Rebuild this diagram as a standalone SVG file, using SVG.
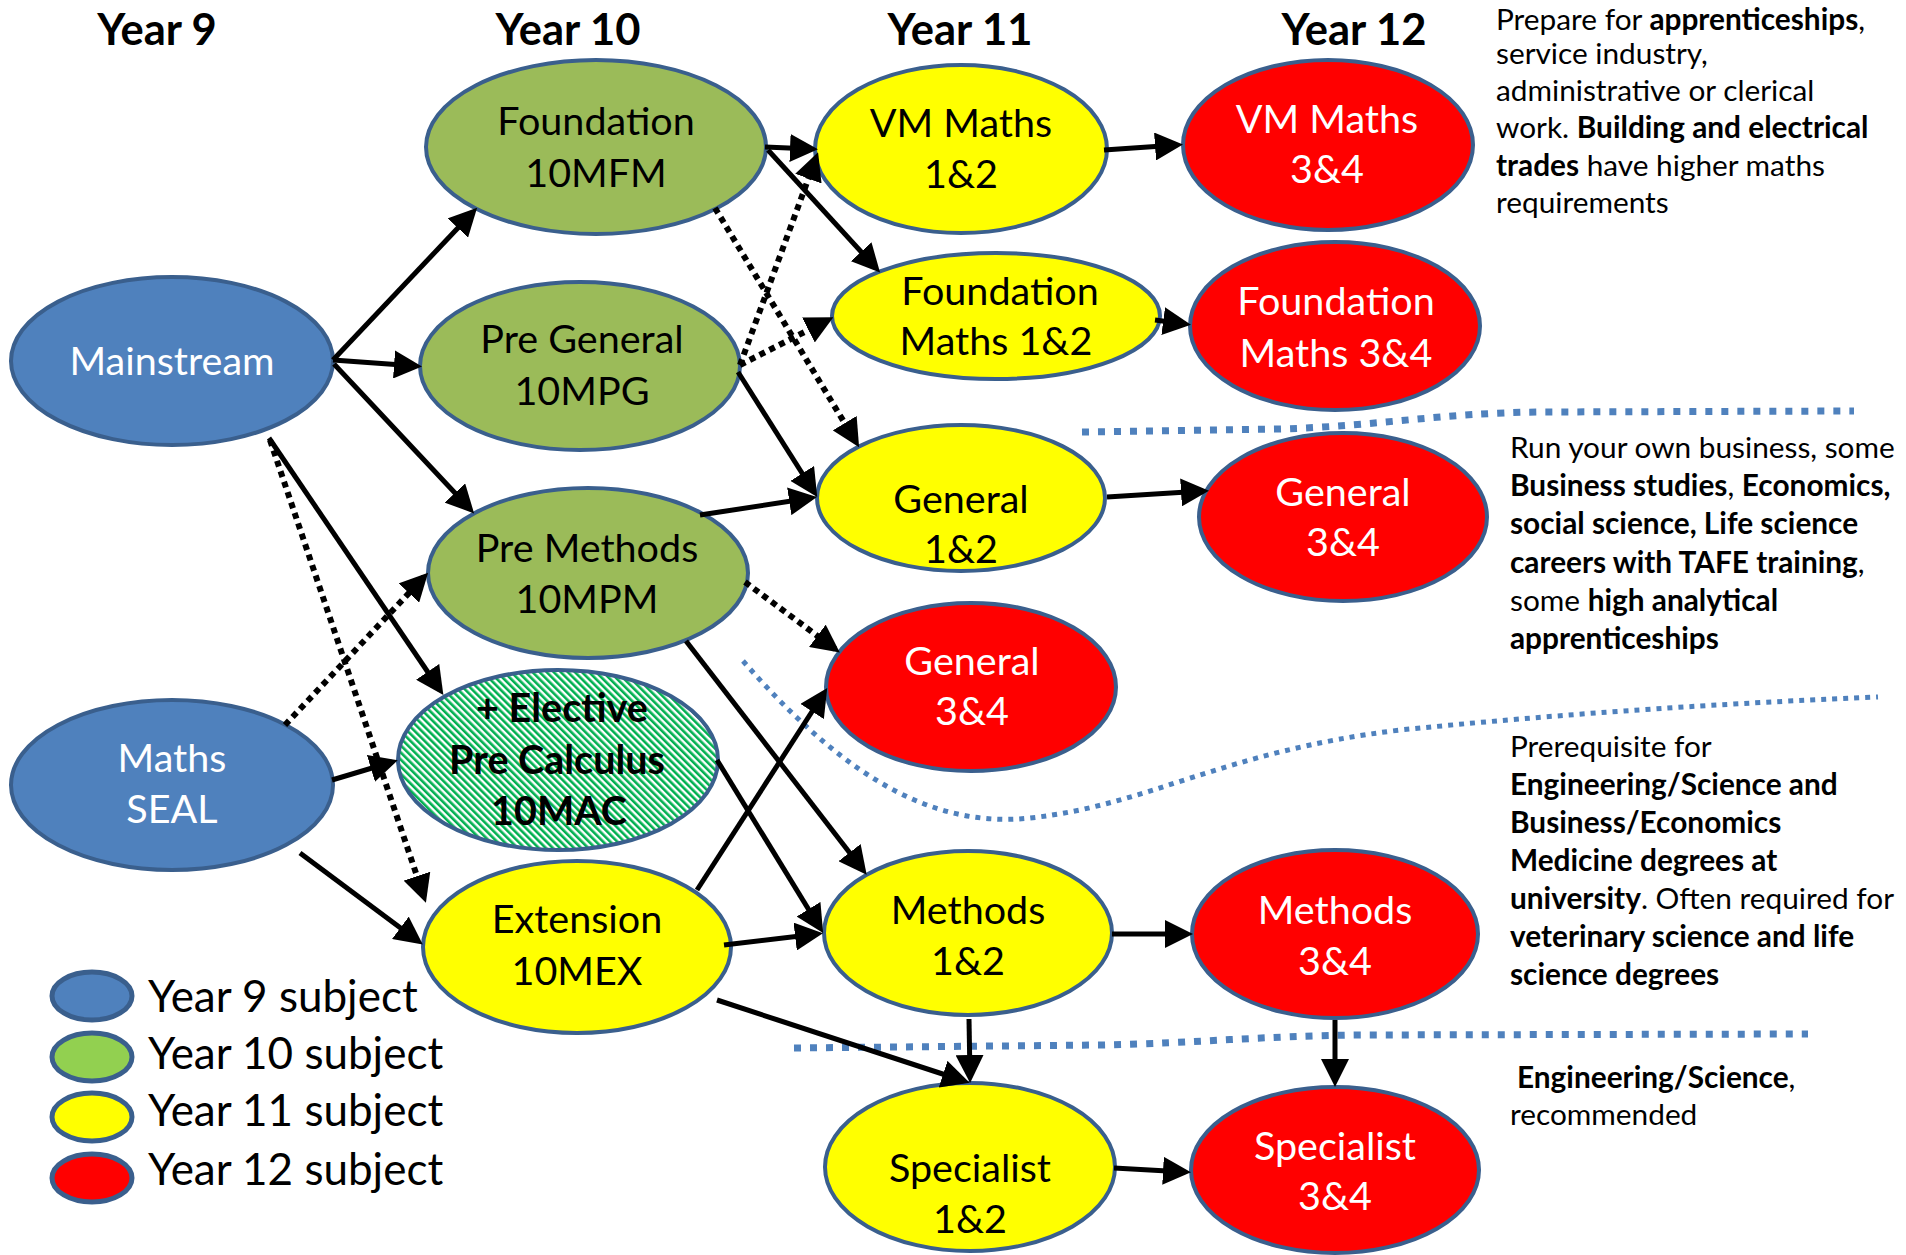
<svg xmlns="http://www.w3.org/2000/svg" width="1906" height="1255" viewBox="0 0 1906 1255">
<defs>
<style>
.hdr{font-family:Lato,"Liberation Sans",sans-serif;font-weight:bold;font-size:43.5px;text-anchor:middle;fill:#000;}
.lbl{font-family:Lato,"Liberation Sans",sans-serif;font-size:39.5px;text-anchor:middle;fill:#000;}
.w{fill:#fff;}
.bl{font-weight:bold;}
.y9{fill:#4F81BD;stroke:#3A5F8D;stroke-width:4;}
.y10{fill:#9BBB59;stroke:#3A5F8D;stroke-width:4;}
.y11{fill:#FFFF00;stroke:#3A5F8D;stroke-width:4;}
.y12{fill:#FF0000;stroke:#3A5F8D;stroke-width:4;}
.hat{fill:url(#hatch);stroke:#3A5F8D;stroke-width:4;}
.leg{stroke:#3A5F8D;stroke-width:5;}
.legt{font-family:Lato,"Liberation Sans",sans-serif;font-size:44px;fill:#000;}
.note{font-family:Lato,"Liberation Sans",sans-serif;font-size:29.8px;fill:#000;}
.c{fill:none;stroke:#000;stroke-width:5;marker-end:url(#ah);}
.d{fill:none;stroke:#000;stroke-width:6;stroke-dasharray:6 5;marker-end:url(#ah);}
.sep{fill:none;stroke:#4F81BD;stroke-width:7;stroke-dasharray:7 9;}
.sep2{fill:none;stroke:#4F81BD;stroke-width:5;stroke-dasharray:5 6;}
</style>
<marker id="ah" markerUnits="userSpaceOnUse" markerWidth="28" markerHeight="28" refX="22" refY="14" orient="auto">
<path d="M0,0 L28,14 L0,28 z" fill="#000"/>
</marker>
<pattern id="hatch" width="5" height="5" patternUnits="userSpaceOnUse" patternTransform="rotate(-45)">
<rect width="5" height="5" fill="#fff"/>
<rect width="2.6" height="5" fill="#00B050"/>
</pattern>
</defs>

<rect width="1906" height="1255" fill="#fff"/>

<g id="headers">
<text class="hdr" x="157" y="45">Year 9</text>
<text class="hdr" x="568" y="45">Year 10</text>
<text class="hdr" x="960" y="45">Year 11</text>
<text class="hdr" x="1354" y="45">Year 12</text>
</g>

<g id="separators">
<path class="sep" d="M1082,432 L1280,429 C1380,426 1440,413 1540,412 L1854,411"/>
<path class="sep2" d="M743,661 C830,760 920,830 1030,818 C1150,805 1220,752 1400,730 C1600,710 1760,702 1878,697"/>
<path class="sep" d="M794,1048 L1100,1045 C1200,1043 1260,1036 1360,1035 L1808,1034"/>
</g>

<g id="mainstream">
<ellipse class="y9" cx="172" cy="361" rx="161" ry="84"/>
<text class="lbl w" x="172" y="375">Mainstream</text>
</g>
<g id="maths-seal">
<ellipse class="y9" cx="172" cy="785" rx="161" ry="85"/>
<text class="lbl w" x="172" y="772">Maths</text>
<text class="lbl w" x="172" y="823">SEAL</text>
</g>

<g id="foundation-10mfm">
<ellipse class="y10" cx="596" cy="147" rx="170" ry="87"/>
<text class="lbl" x="596" y="135">Foundation</text>
<text class="lbl" x="596" y="187">10MFM</text>
</g>
<g id="pre-general-10mpg">
<ellipse class="y10" cx="580" cy="366" rx="160" ry="84"/>
<text class="lbl" x="582" y="353">Pre General</text>
<text class="lbl" x="582" y="405">10MPG</text>
</g>
<g id="pre-methods-10mpm">
<ellipse class="y10" cx="588" cy="573" rx="160" ry="85"/>
<text class="lbl" x="587" y="562">Pre Methods</text>
<text class="lbl" x="587" y="613">10MPM</text>
</g>
<g id="elective-10mac">
<ellipse class="hat" cx="558" cy="760" rx="160" ry="90"/>
<text class="lbl bl" x="562" y="722">+ Elective</text>
<text class="lbl bl" x="557" y="774">Pre Calculus</text>
<text class="lbl bl" x="559" y="825">10MAC</text>
</g>
<g id="extension-10mex">
<ellipse class="y11" cx="577" cy="947" rx="154" ry="86"/>
<text class="lbl" x="577" y="933">Extension</text>
<text class="lbl" x="577" y="985">10MEX</text>
</g>

<g id="vm-maths-12">
<ellipse class="y11" cx="961" cy="149" rx="146" ry="84"/>
<text class="lbl" x="961" y="137">VM Maths</text>
<text class="lbl" x="961" y="188">1&amp;2</text>
</g>
<g id="foundation-maths-12">
<ellipse class="y11" cx="996" cy="316" rx="164" ry="63"/>
<text class="lbl" x="1000" y="305">Foundation</text>
<text class="lbl" x="996" y="355">Maths 1&amp;2</text>
</g>
<g id="general-12">
<ellipse class="y11" cx="961" cy="498" rx="144" ry="73"/>
<text class="lbl" x="961" y="513">General</text>
<text class="lbl" x="961" y="563">1&amp;2</text>
</g>
<g id="general-34-mid">
<ellipse class="y12" cx="971" cy="687" rx="145" ry="84"/>
<text class="lbl w" x="972" y="675">General</text>
<text class="lbl w" x="972" y="725">3&amp;4</text>
</g>
<g id="methods-12">
<ellipse class="y11" cx="968" cy="933" rx="144" ry="82"/>
<text class="lbl" x="968" y="924">Methods</text>
<text class="lbl" x="968" y="975">1&amp;2</text>
</g>
<g id="specialist-12">
<ellipse class="y11" cx="970" cy="1167" rx="145" ry="84"/>
<text class="lbl" x="970" y="1182">Specialist</text>
<text class="lbl" x="970" y="1233">1&amp;2</text>
</g>

<g id="vm-maths-34">
<ellipse class="y12" cx="1328" cy="145" rx="145" ry="85"/>
<text class="lbl w" x="1327" y="133">VM Maths</text>
<text class="lbl w" x="1327" y="183">3&amp;4</text>
</g>
<g id="foundation-maths-34">
<ellipse class="y12" cx="1335" cy="326" rx="145" ry="84"/>
<text class="lbl w" x="1336" y="315">Foundation</text>
<text class="lbl w" x="1336" y="367">Maths 3&amp;4</text>
</g>
<g id="general-34">
<ellipse class="y12" cx="1343" cy="517" rx="144" ry="84"/>
<text class="lbl w" x="1343" y="506">General</text>
<text class="lbl w" x="1343" y="556">3&amp;4</text>
</g>
<g id="methods-34">
<ellipse class="y12" cx="1335" cy="934" rx="143" ry="84"/>
<text class="lbl w" x="1335" y="924">Methods</text>
<text class="lbl w" x="1335" y="975">3&amp;4</text>
</g>
<g id="specialist-34">
<ellipse class="y12" cx="1335" cy="1170" rx="144" ry="83"/>
<text class="lbl w" x="1335" y="1160">Specialist</text>
<text class="lbl w" x="1335" y="1210">3&amp;4</text>
</g>

<g id="connectors">
<path class="c" d="M333,360 L473,212"/>
<path class="c" d="M333,360 L416,366"/>
<path class="c" d="M334,364 L470,509"/>
<path class="c" d="M269,438 L440,690"/>
<path class="d" d="M270,440 L424,897"/>
<path class="d" d="M285,725 L424,577"/>
<path class="c" d="M332,780 L392,762"/>
<path class="c" d="M300,853 L418,941"/>
<path class="c" d="M765,147 L812,149"/>
<path class="c" d="M768,150 L876,268"/>
<path class="d" d="M715,208 L856,442"/>
<path class="d" d="M740,365 L816,158"/>
<path class="d" d="M740,365 L828,320"/>
<path class="c" d="M738,372 L814,492"/>
<path class="c" d="M700,515 L811,498"/>
<path class="d" d="M745,582 L835,649"/>
<path class="c" d="M686,641 L863,870"/>
<path class="c" d="M717,760 L820,928"/>
<path class="c" d="M697,890 L824,693"/>
<path class="c" d="M724,945 L817,934"/>
<path class="c" d="M717,1000 L964,1081"/>
<path class="c" d="M1104,150 L1177,145"/>
<path class="c" d="M1155,320 L1185,324"/>
<path class="c" d="M1107,497 L1203,491"/>
<path class="c" d="M1112,934 L1187,934"/>
<path class="c" d="M969,1019 L970,1077"/>
<path class="c" d="M1335,1020 L1335,1081"/>
<path class="c" d="M1114,1168 L1185,1172"/>
</g>

<g id="notes">
<text class="note" x="1496" y="30">Prepare for <tspan class="bl">apprenticeships</tspan>,</text>
<text class="note" x="1496" y="64">service industry,</text>
<text class="note" x="1496" y="101">administrative or clerical</text>
<text class="note" x="1496" y="138">work. <tspan class="bl">Building and electrical</tspan></text>
<text class="note" x="1496" y="176"><tspan class="bl">trades</tspan> have higher maths</text>
<text class="note" x="1496" y="213">requirements</text>

<text class="note" x="1510" y="458">Run your own business, some</text>
<text class="note" x="1510" y="496"><tspan class="bl">Business studies</tspan>, <tspan class="bl">Economics,</tspan></text>
<text class="note bl" x="1510" y="534">social science, Life science</text>
<text class="note" x="1510" y="573"><tspan class="bl">careers with TAFE training</tspan>,</text>
<text class="note" x="1510" y="611">some <tspan class="bl">high analytical</tspan></text>
<text class="note bl" x="1510" y="649">apprenticeships</text>

<text class="note" x="1510" y="757">Prerequisite for</text>
<text class="note bl" x="1510" y="795">Engineering/Science and</text>
<text class="note bl" x="1510" y="833">Business/Economics</text>
<text class="note bl" x="1510" y="871">Medicine degrees at</text>
<text class="note" x="1510" y="909"><tspan class="bl">university</tspan>. Often required for</text>
<text class="note bl" x="1510" y="947">veterinary science and life</text>
<text class="note bl" x="1510" y="985">science degrees</text>

<text class="note bl" x="1517" y="1088">Engineering/Science<tspan font-weight="normal">,</tspan></text>
<text class="note" x="1510" y="1125">recommended</text>
</g>

<g id="legend">
<ellipse class="leg" cx="92" cy="996" rx="40" ry="24" fill="#4F81BD"/>
<ellipse class="leg" cx="92" cy="1057" rx="40" ry="24" fill="#92D050"/>
<ellipse class="leg" cx="92" cy="1117" rx="40" ry="24" fill="#FFFF00"/>
<ellipse class="leg" cx="92" cy="1178" rx="40" ry="24" fill="#FF0000"/>
<text class="legt" x="148" y="1012">Year 9 subject</text>
<text class="legt" x="148" y="1069">Year 10 subject</text>
<text class="legt" x="148" y="1126">Year 11 subject</text>
<text class="legt" x="148" y="1185">Year 12 subject</text>
</g>
</svg>
